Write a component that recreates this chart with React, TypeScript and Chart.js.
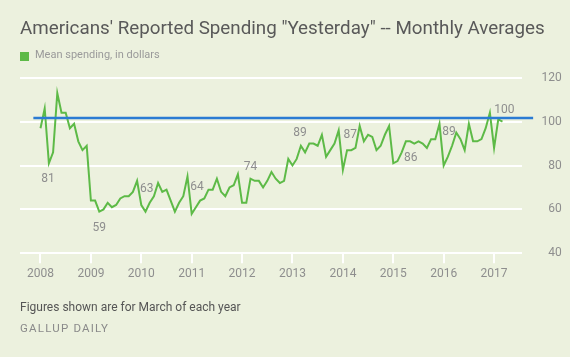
import React, { useEffect, useRef } from "react";
import { Chart, registerables } from "chart.js";

Chart.register(...registerables);

// ---- data ----
const years = [2008, 2009, 2010, 2011, 2012, 2013, 2014, 2015, 2016, 2017];

// Monthly mean spending (dollars), Jan 2008 .. Mar 2017
const spending2008 = [97, 106, 81, 86, 113, 104, 104, 97, 99, 91, 87, 89];
const spending2009 = [64, 64, 59, 60, 63, 61, 62, 65, 66, 66, 68, 73];
const spending2010 = [62, 59, 63, 66, 72, 68, 69, 64, 59, 63, 66, 75];
const spending2011 = [58, 61, 64, 65, 69, 69, 74, 68, 66, 70, 71, 76];
const spending2012 = [63, 63, 74, 73, 73, 70, 73, 77, 74, 72, 73, 83];
const spending2013 = [80, 83, 89, 86, 90, 90, 89, 94, 84, 87, 90, 96];
const spending2014 = [78, 87, 87, 88, 98, 91, 94, 93, 87, 89, 94, 98];
const spending2015 = [81, 82, 86, 91, 91, 90, 91, 90, 88, 92, 92, 99];
const spending2016 = [80, 84, 89, 95, 92, 87, 99, 91, 91, 92, 97, 104];
const spending2017 = [88, 101, 100];

const spending = [
  ...spending2008, ...spending2009, ...spending2010, ...spending2011, ...spending2012,
  ...spending2013, ...spending2014, ...spending2015, ...spending2016, ...spending2017,
];

const referenceValue = 101.6;
const yTicks = [40, 60, 80, 100, 120];

// March of each year gets a value label (index into spending)
const marchIndices = [2, 14, 26, 38, 50, 62, 74, 86, 98, 110];

// ---- layout / style (kept separate from data) ----
const labelOffsets = [
  [-1, 16], [0, 16], [-3, -14], [-3, -14], [0, -12],
  [-1, -13], [-1, -15], [9, 6], [-3, -14], [2, -12],
];
const X_MIN = -4.88;
const X_MAX = 114.6;
const REF_FROM = -1.7;
const REF_TO = 117.3;

const BG = "#ecf1de";
const GREEN = "#5dba47";
const BLUE = "#2b7bd3";
const TICK_COLOR = "#8e8e8e";
const FONT = "Roboto, 'Helvetica Neue', Arial, sans-serif";

const marchLabelPlugin = {
  id: "marchLabels",
  afterDatasetsDraw(chart: any) {
    const meta = chart.getDatasetMeta(0);
    const ctx = chart.ctx;
    ctx.save();
    ctx.font = `12px ${FONT}`;
    ctx.fillStyle = TICK_COLOR;
    ctx.textAlign = "center";
    ctx.textBaseline = "middle";
    marchIndices.forEach((idx, i) => {
      const pt = meta.data[idx];
      if (!pt) return;
      const [dx, dy] = labelOffsets[i];
      ctx.fillText(String(spending[idx]), pt.x + dx, pt.y + dy);
    });
    ctx.restore();
  },
};

export default function App() {
  const canvasRef = useRef<HTMLCanvasElement | null>(null);

  useEffect(() => {
    if (!canvasRef.current) return;
    Chart.defaults.font.family = FONT;
    const chart = new Chart(canvasRef.current, {
      type: "line",
      data: {
        datasets: [
          {
            label: "Mean spending, in dollars",
            data: spending.map((v, i) => ({ x: i, y: v })),
            borderColor: GREEN,
            backgroundColor: GREEN,
            borderWidth: 2,
            pointRadius: 0,
            tension: 0,
            order: 1,
          },
          {
            label: "reference",
            data: [
              { x: REF_FROM, y: referenceValue },
              { x: REF_TO, y: referenceValue },
            ],
            borderColor: BLUE,
            borderWidth: 2.5,
            pointRadius: 0,
            clip: false as any,
            order: 0,
          },
        ],
      },
      options: {
        animation: false,
        responsive: false,
        maintainAspectRatio: false,
        events: [],
        layout: {
          padding: { left: 20, right: 8.2, top: 77.7, bottom: 63.7 },
        },
        plugins: {
          legend: { display: false },
          title: { display: false },
          tooltip: { enabled: false },
        },
        scales: {
          x: {
            type: "linear",
            min: X_MIN,
            max: X_MAX,
            afterBuildTicks: (s: any) => {
              s.ticks = years.map((_, i) => ({ value: i * 12 }));
            },
            ticks: {
              callback: (v: any) => String(years[0] + Math.round(Number(v) / 12)),
              color: TICK_COLOR,
              font: { size: 12 },
              padding: 3,
              maxRotation: 0,
              autoSkip: false,
            },
            grid: {
              display: true,
              drawOnChartArea: false,
              drawTicks: true,
              tickLength: 10,
              color: "#ffffff",
              lineWidth: 2,
            },
            border: { display: false },
            afterFit: (s: any) => {
              s.height = 40;
            },
          },
          y: {
            position: "right",
            min: 40,
            max: 120,
            afterBuildTicks: (s: any) => {
              s.ticks = yTicks.map((v) => ({ value: v }));
            },
            ticks: {
              color: TICK_COLOR,
              font: { size: 12 },
              padding: 8,
              crossAlign: "far",
            },
            grid: {
              color: "#ffffff",
              lineWidth: 2,
              drawTicks: false,
            },
            border: { display: false },
            afterFit: (s: any) => {
              s.width = 40;
            },
          },
        },
      } as any,
      plugins: [marchLabelPlugin],
    });
    return () => chart.destroy();
  }, []);

  return (
    <div
      style={{
        position: "absolute",
        left: 0,
        top: 0,
        width: 570,
        height: 357,
        background: BG,
        overflow: "hidden",
        fontFamily: FONT,
      }}
    >
      <canvas
        ref={canvasRef}
        width={570}
        height={357}
        style={{ position: "absolute", left: 0, top: 0, width: 570, height: 357 }}
      />
      <div
        style={{
          position: "absolute",
          left: 20,
          top: 18.5,
          fontSize: 18.8,
          lineHeight: "18.8px",
          color: "#595959",
          whiteSpace: "nowrap",
        }}
      >
        Americans' Reported Spending "Yesterday" -- Monthly Averages
      </div>
      <div
        style={{
          position: "absolute",
          left: 20,
          top: 51.7,
          width: 9,
          height: 9,
          background: GREEN,
        }}
      />
      <div
        style={{
          position: "absolute",
          left: 35,
          top: 49.4,
          fontSize: 11,
          lineHeight: "11px",
          color: "#9a9a9a",
          whiteSpace: "nowrap",
        }}
      >
        Mean spending, in dollars
      </div>
      <div
        style={{
          position: "absolute",
          left: 20,
          top: 301.2,
          fontSize: 12,
          lineHeight: "12px",
          color: "#555555",
          whiteSpace: "nowrap",
        }}
      >
        Figures shown are for March of each year
      </div>
      <div
        style={{
          position: "absolute",
          left: 20,
          top: 323.3,
          fontSize: 11.5,
          lineHeight: "11.5px",
          letterSpacing: 1.2,
          color: "#8a8a8a",
          whiteSpace: "nowrap",
        }}
      >
        GALLUP DAILY
      </div>
    </div>
  );
}
